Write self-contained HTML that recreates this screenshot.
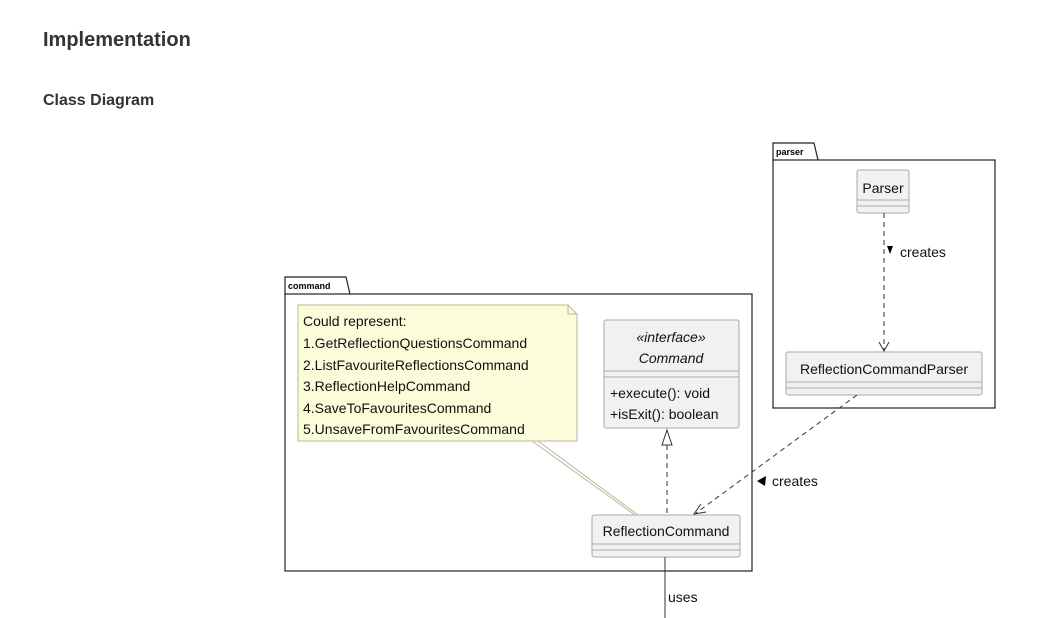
<!DOCTYPE html>
<html><head><style>
body{margin:0;background:#fff;width:1064px;height:618px;overflow:hidden;font-family:"Liberation Sans",sans-serif}
h1{position:absolute;left:43px;top:29px;margin:0;font-size:20px;font-weight:bold;color:#333}
h2{position:absolute;left:43px;top:92px;margin:0;font-size:16px;font-weight:bold;color:#333}
</style></head><body>
<h1>Implementation</h1>
<h2>Class Diagram</h2>
<svg width="1064" height="618" style="position:absolute;left:0;top:0" font-family="Liberation Sans, sans-serif">
<g fill="none" stroke="#222" stroke-width="1.2">
<path d="M773 160 V143 H814 L818 160"/><rect x="773" y="160" width="222" height="248"/>
<path d="M285 294 V277 H346 L350 294"/><rect x="285" y="294" width="467" height="277"/>
</g>
<text x="776" y="155" font-size="9" font-weight="bold">parser</text>
<text x="288" y="289" font-size="9" font-weight="bold">command</text>
<g fill="#f1f1f1" stroke="#aaa">
<rect x="857" y="170" width="52" height="43" rx="2"/>
<rect x="786" y="352" width="196" height="43" rx="2"/>
<rect x="604" y="320" width="135" height="108" rx="2"/>
<rect x="592" y="515" width="148" height="42" rx="2"/>
</g>
<g stroke="#aaa">
<line x1="857" y1="200" x2="909" y2="200"/><line x1="857" y1="206" x2="909" y2="206"/>
<line x1="786" y1="382" x2="982" y2="382"/><line x1="786" y1="388" x2="982" y2="388"/>
<line x1="604" y1="371" x2="739" y2="371"/><line x1="604" y1="377" x2="739" y2="377"/>
<line x1="592" y1="544" x2="740" y2="544"/><line x1="592" y1="550" x2="740" y2="550"/>
</g>
<g font-size="14" fill="#111">
<text x="883" y="193" text-anchor="middle">Parser</text>
<text x="884" y="374" text-anchor="middle">ReflectionCommandParser</text>
<text x="671" y="342" text-anchor="middle" font-style="italic">«interface»</text>
<text x="671" y="363" text-anchor="middle" font-style="italic">Command</text>
<text x="610" y="398">+execute(): void</text>
<text x="610" y="419">+isExit(): boolean</text>
<text x="666" y="536" text-anchor="middle">ReflectionCommand</text>
</g>
<path d="M298 305 H568 L577 314 V441 H298 Z" fill="#fbfdda" stroke="#b8b89a"/>
<path d="M568 305 V314 H577" fill="none" stroke="#b8b89a"/>
<g font-size="14" fill="#111">
<text x="303" y="326">Could represent:</text>
<text x="303" y="348">1.GetReflectionQuestionsCommand</text>
<text x="303" y="370">2.ListFavouriteReflectionsCommand</text>
<text x="303" y="391">3.ReflectionHelpCommand</text>
<text x="303" y="413">4.SaveToFavouritesCommand</text>
<text x="303" y="434">5.UnsaveFromFavouritesCommand</text>
</g>
<path d="M532 441 L635 515 M538 441 L638 515" stroke="#b8b89a" fill="none"/>
<g stroke="#333" fill="none" stroke-dasharray="5,4">
<line x1="884" y1="213" x2="884" y2="350"/>
<line x1="667" y1="445" x2="667" y2="515"/>
<line x1="857" y1="395" x2="696" y2="513"/>
</g>
<path d="M879 342 L884 351 L889 342" fill="none" stroke="#333"/>
<path d="M667 430 L662 445 H672 Z" fill="#fff" stroke="#333"/>
<path d="M701 504 L694 514 L706 512" fill="none" stroke="#333"/>
<line x1="665" y1="557" x2="665" y2="618" stroke="#333"/>
<path d="M887 246 H893 L890 254 Z" fill="#000"/>
<path d="M757 481 L766 476 L765 486 Z" fill="#000"/>
<g font-size="14" fill="#111">
<text x="900" y="257">creates</text>
<text x="772" y="486">creates</text>
<text x="668" y="602">uses</text>
</g>
</svg>
</body></html>
